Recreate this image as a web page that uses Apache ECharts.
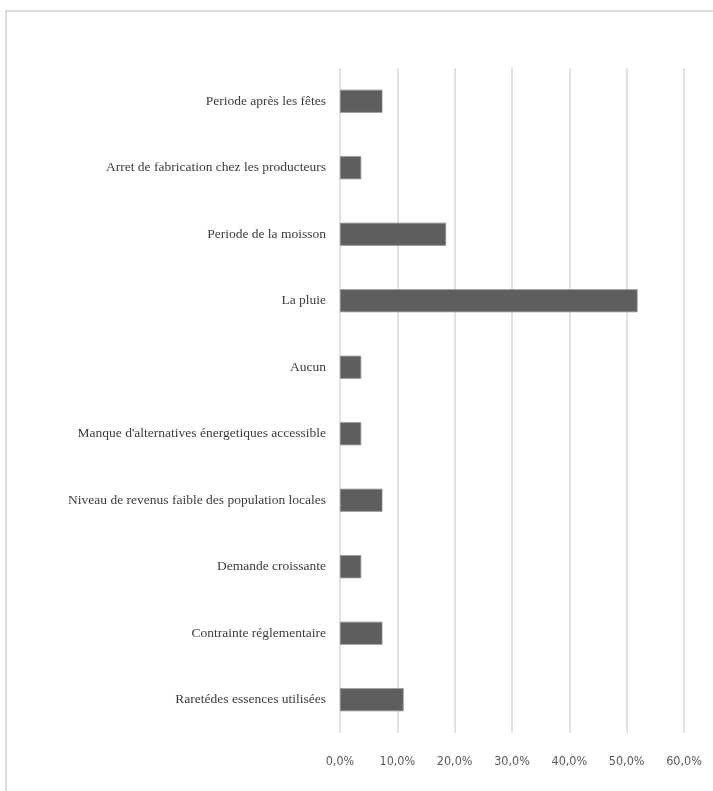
<!DOCTYPE html>
<html>
<head>
<meta charset="utf-8">
<style>
  html, body { margin: 0; padding: 0; background: #ffffff; }
  #chart { width: 713px; height: 791px; }
</style>
<script src="https://cdn.jsdelivr.net/npm/echarts@6/dist/echarts.min.js"></script>
</head>
<body>
<div id="chart"></div>
<script>
// Causes listed top to bottom, with their share of responses (%)
const categories = [
  "Periode après les fêtes",
  "Arret de fabrication chez les producteurs",
  "Periode de la moisson",
  "La pluie",
  "Aucun",
  "Manque d'alternatives énergetiques accessible",
  "Niveau de revenus faible des population locales",
  "Demande croissante",
  "Contrainte réglementaire",
  "Raretédes essences utilisées"
];
const shares = [7.4, 3.7, 18.5, 51.9, 3.7, 3.7, 7.4, 3.7, 7.4, 11.1];
const axisMax = 60;
const axisStep = 10;

const chart = echarts.init(document.getElementById('chart'), null, { renderer: 'canvas' });

chart.setOption({
  animation: false,
  backgroundColor: '#ffffff',
  graphic: [{
    type: 'rect',
    shape: { x: 6, y: 11, width: 760, height: 820 },
    style: { fill: 'none', stroke: '#dcdcdc', lineWidth: 2 },
    silent: true
  }],
  grid: { left: 340, right: 29, top: 68, bottom: 58 },
  xAxis: {
    type: 'value',
    min: 0,
    max: axisMax,
    interval: axisStep,
    axisLine: { show: false },
    axisTick: { show: false },
    splitLine: { show: true, lineStyle: { color: '#d9d9d9', width: 1.5 } },
    axisLabel: {
      margin: 22,
      color: '#595959',
      fontFamily: 'DejaVu Sans Condensed',
      fontSize: 12.5,
      formatter: v => v.toFixed(1).replace('.', ',') + '%'
    }
  },
  yAxis: {
    type: 'category',
    data: categories,
    inverse: true,
    axisLine: { show: false },
    axisTick: { show: false },
    splitLine: { show: false },
    axisLabel: {
      margin: 14,
      color: '#3c3c3c',
      fontFamily: 'Liberation Serif',
      fontSize: 13.5
    }
  },
  series: [{
    type: 'bar',
    data: shares,
    barWidth: 23,
    itemStyle: { color: '#5e5e5e', borderColor: '#8a8a8a', borderWidth: 0.8 }
  }]
});
</script>
</body>
</html>
